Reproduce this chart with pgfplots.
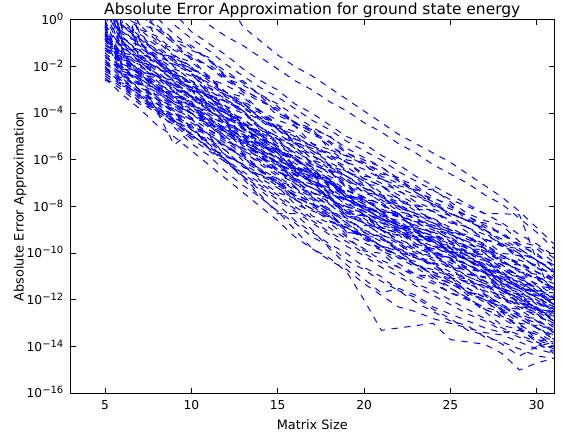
\documentclass[border=0pt]{standalone}
\usepackage{pgfplots}
\pgfplotsset{compat=1.18}
\usepackage{fontspec}
\setmainfont{DejaVu Sans}
\newcommand{\tl}[1]{10\raisebox{4bp}{\fontsize{10}{10}\selectfont #1}}
\pgfplotsset{ln/.style={blue, line width=1bp, dash pattern=on 6.4bp off 6.4bp, mark=none}}
\begin{document}
\begin{tikzpicture}
\useasboundingbox (0,0) rectangle (564bp,437bp);
\begin{axis}[
  at={(70.5bp,43.7bp)}, anchor=south west,
  width=483.5bp, height=373.3bp, scale only axis,
  xmin=3, xmax=31, ymin=-16, ymax=0,
  xtick={5,10,15,20,25,30},
  ytick={-16,-14,-12,-10,-8,-6,-4,-2,0},
  yticklabels={\tl{−16},\tl{−14},\tl{−12},\tl{−10},\tl{−8},\tl{−6},\tl{−4},\tl{−2},\tl{0}},
  /pgf/number format/assume math mode=true,
  minor tick num=0,
  tick align=inside,
  major tick length=5bp,
  axis line style={line width=1bp, black},
  tick style={line width=1bp, black},
  ticklabel style={font=\fontsize{12.3}{14}\selectfont, inner sep=0pt},
  xticklabel style={anchor=base, yshift=-16.4bp},
  yticklabel style={anchor=base east, xshift=-7bp, yshift=-4.5bp},
  title={Absolute Error Approximation for ground state energy},
  title style={at={(axis description cs:0.5,0.998)}, anchor=base, yshift=0pt, inner sep=0pt, font=\fontsize{15.5}{17}\selectfont},
  xlabel={Matrix Size},
  xlabel style={at={(axis description cs:0.5,-0.0973)}, anchor=base, inner sep=0pt, font=\fontsize{12.9}{14}\selectfont},
  ylabel={Absolute Error Approximation},
  ylabel style={at={(axis description cs:-0.0972,0.5)}, rotate=0, anchor=base, inner sep=0pt, font=\fontsize{12.9}{14}\selectfont},
]
\addplot[ln] coordinates {(5,6.0)(6,3.0)(7,-0.4)(8,-0.7)(9,-1.3)(10,-1.6)(11,-2.0)(12,-2.6)(13,-3.0)(14,-3.4)(15,-4.1)(16,-4.4)(17,-4.8)(18,-5.4)(19,-5.8)(20,-6.2)(21,-6.7)(22,-7.0)(23,-7.2)(24,-7.8)(25,-8.1)(26,-8.4)(27,-8.9)(28,-9.1)(29,-9.7)(30,-10.0)(31,-10.6)};
\addplot[ln] coordinates {(5,5.0)(6,-0.6)(7,-1.0)(8,-1.5)(9,-1.9)(10,-2.2)(11,-2.8)(12,-3.1)(13,-3.7)(14,-4.1)(15,-4.6)(16,-5.1)(17,-5.4)(18,-5.9)(19,-6.3)(20,-6.8)(21,-7.1)(22,-7.5)(23,-7.9)(24,-8.2)(25,-8.6)(26,-8.9)(27,-9.4)(28,-9.7)(29,-10.1)(30,-10.6)(31,-10.9)};
\addplot[ln] coordinates {(5,4.0)(6,2.5)(7,-0.9)(8,-1.2)(9,-1.8)(10,-2.1)(11,-2.5)(12,-3.1)(13,-3.5)(14,-3.9)(15,-4.5)(16,-4.8)(17,-5.3)(18,-5.8)(19,-6.1)(20,-6.6)(21,-7.0)(22,-7.3)(23,-7.8)(24,-8.1)(25,-8.4)(26,-8.9)(27,-9.2)(28,-9.6)(29,-10.0)(30,-10.3)(31,-10.8)};
\addplot[ln] coordinates {(5,1.5)(6,-0.8)(7,-1.3)(8,-1.9)(9,-2.2)(10,-2.7)(11,-3.1)(12,-3.7)(13,-4.0)(14,-4.6)(15,-5.0)(16,-5.5)(17,-5.8)(18,-6.4)(19,-6.7)(20,-7.2)(21,-7.5)(22,-7.9)(23,-8.3)(24,-8.5)(25,-9.0)(26,-9.3)(27,-9.8)(28,-10.1)(29,-10.5)(30,-11.0)(31,-11.3)};
\addplot[ln] coordinates {(5,3.5)(6,-1.1)(7,-1.5)(8,-2.1)(9,-2.4)(10,-3.0)(11,-3.3)(12,-3.8)(13,-4.3)(14,-4.7)(15,-5.2)(16,-5.7)(17,-6.0)(18,-6.6)(19,-6.9)(20,-7.4)(21,-7.7)(22,-8.2)(23,-8.4)(24,-8.9)(25,-9.1)(26,-9.6)(27,-9.9)(28,-10.4)(29,-10.7)(30,-11.1)(31,-11.5)};
\addplot[ln] coordinates {(5,0.3)(6,-1.2)(7,-1.6)(8,-2.0)(9,-2.6)(10,-2.9)(11,-3.5)(12,-3.9)(13,-4.5)(14,-4.9)(15,-5.4)(16,-5.8)(17,-6.3)(18,-6.7)(19,-7.1)(20,-7.6)(21,-7.9)(22,-8.3)(23,-8.7)(24,-9.0)(25,-9.4)(26,-9.7)(27,-10.2)(28,-10.5)(29,-11.0)(30,-11.3)(31,-11.8)};
\addplot[ln] coordinates {(5,4.5)(6,1.5)(7,-1.8)(8,-2.3)(9,-2.7)(10,-3.3)(11,-3.6)(12,-4.2)(13,-4.6)(14,-5.1)(15,-5.6)(16,-5.9)(17,-6.5)(18,-6.8)(19,-7.3)(20,-7.7)(21,-8.1)(22,-8.4)(23,-8.9)(24,-9.1)(25,-9.6)(26,-9.9)(27,-10.3)(28,-10.7)(29,-11.1)(30,-11.5)(31,-11.9)};
\addplot[ln] coordinates {(5,0.2)(6,-1.4)(7,-2.0)(8,-2.4)(9,-2.9)(10,-3.4)(11,-3.8)(12,-4.4)(13,-4.8)(14,-5.3)(15,-5.8)(16,-6.3)(17,-6.6)(18,-7.1)(19,-7.5)(20,-7.9)(21,-8.4)(22,-8.6)(23,-9.1)(24,-9.4)(25,-9.8)(26,-10.1)(27,-10.6)(28,-10.9)(29,-11.4)(30,-11.7)(31,-12.2)};
\addplot[ln] coordinates {(5,-0.2)(6,-1.9)(7,-2.3)(8,-2.9)(9,-3.3)(10,-3.7)(11,-4.3)(12,-4.7)(13,-5.2)(14,-5.6)(15,-6.2)(16,-6.5)(17,-7.0)(18,-7.4)(19,-7.9)(20,-8.2)(21,-8.7)(22,-9.0)(23,-9.4)(24,-9.7)(25,-10.1)(26,-10.5)(27,-10.8)(28,-11.3)(29,-11.6)(30,-12.1)(31,-12.4)};
\addplot[ln] coordinates {(5,-0.4)(6,-2.1)(7,-2.7)(8,-3.1)(9,-3.6)(10,-4.0)(11,-4.6)(12,-5.0)(13,-5.6)(14,-6.0)(15,-6.5)(16,-6.9)(17,-7.4)(18,-7.8)(19,-8.2)(20,-8.6)(21,-9.0)(22,-9.4)(23,-9.7)(24,-10.1)(25,-10.4)(26,-10.8)(27,-11.2)(28,-11.6)(29,-11.9)(30,-12.4)(31,-12.7)};
\addplot[ln] coordinates {(5,-0.6)(6,-2.4)(7,-3.0)(8,-3.5)(9,-3.9)(10,-4.4)(11,-4.9)(12,-5.4)(13,-5.9)(14,-6.4)(15,-6.8)(16,-7.3)(17,-7.7)(18,-8.2)(19,-8.5)(20,-9.0)(21,-9.3)(22,-9.8)(23,-10.1)(24,-10.4)(25,-10.8)(26,-11.1)(27,-11.5)(28,-11.9)(29,-12.2)(30,-12.6)(31,-13.0)};
\addplot[ln] coordinates {(5,-2.3)(6,-2.8)(7,-3.3)(8,-3.7)(9,-4.3)(10,-4.7)(11,-5.2)(12,-5.8)(13,-6.2)(14,-6.8)(15,-7.2)(16,-7.7)(17,-8.1)(18,-8.6)(19,-8.9)(20,-9.4)(21,-9.8)(22,-10.1)(23,-10.5)(24,-10.8)(25,-11.2)(26,-11.5)(27,-11.9)(28,-12.2)(29,-12.6)(30,-12.9)(31,-13.3)};
\addplot[ln] coordinates {(5,-2.6)(6,-2.7)(7,-3.2)(8,-3.9)(9,-4.4)(10,-5.0)(11,-5.4)(12,-6.0)(13,-6.5)(14,-7.0)(15,-7.5)(16,-8.0)(17,-8.5)(18,-8.9)(19,-9.4)(20,-9.8)(21,-10.3)(22,-10.6)(23,-11.0)(24,-11.3)(25,-11.7)(26,-12.0)(27,-12.4)(28,-12.7)(29,-13.1)(30,-13.4)(31,-13.8)};
\addplot[ln] coordinates {(5,-0.8)(6,-2.4)(7,-2.9)(8,-3.2)(9,-3.7)(10,-4.0)(11,-4.4)(12,-4.8)(13,-5.1)(14,-5.6)(15,-5.9)(16,-6.3)(17,-6.6)(18,-7.0)(19,-7.3)(20,-7.6)(21,-7.9)(22,-8.3)(23,-8.5)(24,-8.9)(25,-9.2)(26,-9.5)(27,-9.8)(28,-10.2)(29,-10.4)(30,-10.8)(31,-11.1)};
\addplot[ln] coordinates {(5,5.0)(6,2.0)(7,-0.6)(8,-1.3)(9,-2.0)(10,-2.6)(11,-3.3)(12,-3.9)(13,-4.6)(14,-5.2)(15,-5.9)(16,-6.5)(17,-7.0)(18,-7.6)(19,-8.1)(20,-8.7)(21,-9.2)(22,-9.6)(23,-10.1)(24,-10.6)(25,-11.0)(26,-11.5)(27,-11.9)(28,-12.4)(29,-12.8)(30,-13.2)(31,-13.6)};
\addplot[ln] coordinates {(5,3.0)(6,-0.2)(7,-0.9)(8,-1.7)(9,-2.4)(10,-3.1)(11,-3.8)(12,-4.4)(13,-5.1)(14,-5.8)(15,-6.4)(16,-7.0)(17,-7.6)(18,-8.2)(19,-8.7)(20,-9.2)(21,-9.7)(22,-10.2)(23,-10.6)(24,-11.1)(25,-11.5)(26,-11.9)(27,-12.4)(28,-12.8)(29,-13.2)(30,-13.5)(31,-13.9)};
\addplot[ln] coordinates {(5,0.5)(6,-1.0)(7,-1.4)(8,-1.8)(9,-2.3)(10,-2.6)(11,-3.0)(12,-3.5)(13,-3.8)(14,-4.2)(15,-4.6)(16,-5.0)(17,-5.4)(18,-5.7)(19,-6.1)(20,-6.4)(21,-6.8)(22,-7.2)(23,-7.5)(24,-7.9)(25,-8.3)(26,-8.6)(27,-9.0)(28,-9.4)(29,-9.8)(30,-10.3)(31,-10.7)};
\addplot[ln] coordinates {(5,0.7)(6,-1.5)(7,-2.2)(8,-2.8)(9,-3.4)(10,-4.0)(11,-4.5)(12,-5.1)(13,-5.6)(14,-6.2)(15,-6.7)(16,-7.2)(17,-7.6)(18,-8.1)(19,-8.6)(20,-9.0)(21,-9.4)(22,-9.8)(23,-10.2)(24,-10.5)(25,-10.9)(26,-11.3)(27,-11.6)(28,-12.0)(29,-12.3)(30,-12.7)(31,-13.0)};
\addplot[ln] coordinates {(5,2.0)(6,-0.3)(7,-0.8)(8,-1.4)(9,-1.7)(10,-2.3)(11,-2.7)(12,-3.3)(13,-3.7)(14,-4.3)(15,-4.7)(16,-5.2)(17,-5.6)(18,-6.1)(19,-6.5)(20,-6.9)(21,-7.4)(22,-7.7)(23,-8.2)(24,-8.5)(25,-8.9)(26,-9.3)(27,-9.6)(28,-10.1)(29,-10.4)(30,-10.8)(31,-11.2)};
\addplot[ln] coordinates {(5,-0.5)(6,-2.2)(7,-2.5)(8,-3.0)(9,-3.5)(10,-3.8)(11,-4.3)(12,-4.8)(13,-5.3)(14,-5.7)(15,-6.1)(16,-6.6)(17,-6.9)(18,-7.4)(19,-7.7)(20,-8.1)(21,-8.5)(22,-8.8)(23,-9.2)(24,-9.5)(25,-9.9)(26,-10.3)(27,-10.6)(28,-11.0)(29,-11.4)(30,-11.8)(31,-12.1)};
\addplot[ln] coordinates {(5,0.0)(6,-1.7)(7,-2.1)(8,-2.7)(9,-3.1)(10,-3.6)(11,-4.1)(12,-4.5)(13,-5.1)(14,-5.4)(15,-6.0)(16,-6.4)(17,-6.9)(18,-7.2)(19,-7.7)(20,-8.1)(21,-8.5)(22,-8.8)(23,-9.3)(24,-9.5)(25,-10.0)(26,-10.3)(27,-10.8)(28,-11.1)(29,-11.5)(30,-11.9)(31,-12.3)};
\addplot[ln] coordinates {(5,-2.1)(6,-2.7)(7,-3.2)(8,-3.8)(9,-4.4)(10,-4.9)(11,-5.5)(12,-6.0)(13,-6.6)(14,-7.1)(15,-7.6)(16,-8.1)(17,-8.6)(18,-9.1)(19,-9.5)(20,-10.0)(21,-10.4)(22,-10.8)(23,-11.3)(24,-11.6)(25,-12.0)(26,-12.4)(27,-12.8)(28,-13.2)(29,-13.5)(30,-13.8)(31,-14.1)};
\addplot[ln] coordinates {(5,-0.1)(6,-2.0)(7,-2.6)(8,-3.3)(9,-3.8)(10,-4.3)(11,-4.9)(12,-5.4)(13,-5.9)(14,-6.5)(15,-7.0)(16,-7.4)(17,-7.9)(18,-8.4)(19,-8.8)(20,-9.3)(21,-9.7)(22,-10.1)(23,-10.5)(24,-10.9)(25,-11.3)(26,-11.7)(27,-12.1)(28,-12.5)(29,-12.8)(30,-13.2)(31,-13.5)};
\addplot[ln] coordinates {(5,4.0)(6,1.0)(7,-1.2)(8,-1.6)(9,-2.1)(10,-2.4)(11,-2.9)(12,-3.4)(13,-3.9)(14,-4.3)(15,-4.9)(16,-5.3)(17,-5.8)(18,-6.2)(19,-6.7)(20,-7.1)(21,-7.6)(22,-7.9)(23,-8.4)(24,-8.7)(25,-9.2)(26,-9.5)(27,-10.0)(28,-10.3)(29,-10.8)(30,-11.1)(31,-11.6)};
\addplot[ln] coordinates {(5,0.9)(6,-1.3)(7,-1.9)(8,-2.5)(9,-2.8)(10,-3.2)(11,-3.7)(12,-4.0)(13,-4.5)(14,-4.8)(15,-5.3)(16,-5.6)(17,-6.1)(18,-6.4)(19,-6.9)(20,-7.2)(21,-7.6)(22,-8.0)(23,-8.3)(24,-8.7)(25,-9.0)(26,-9.4)(27,-9.7)(28,-10.1)(29,-10.5)(30,-10.8)(31,-11.2)};
\addplot[ln] coordinates {(5,-0.3)(6,-2.3)(7,-2.8)(8,-3.4)(9,-3.7)(10,-4.2)(11,-4.7)(12,-5.1)(13,-5.7)(14,-6.1)(15,-6.6)(16,-7.0)(17,-7.5)(18,-7.9)(19,-8.4)(20,-8.7)(21,-9.2)(22,-9.5)(23,-9.9)(24,-10.3)(25,-10.6)(26,-11.0)(27,-11.3)(28,-11.7)(29,-12.1)(30,-12.4)(31,-12.8)};
\addplot[ln] coordinates {(5,1.0)(6,-0.5)(7,-1.0)(8,-1.7)(9,-2.2)(10,-2.8)(11,-3.3)(12,-3.9)(13,-4.4)(14,-5.0)(15,-5.5)(16,-6.0)(17,-6.5)(18,-7.0)(19,-7.4)(20,-7.9)(21,-8.3)(22,-8.7)(23,-9.1)(24,-9.5)(25,-9.9)(26,-10.3)(27,-10.7)(28,-11.1)(29,-11.5)(30,-11.9)(31,-12.3)};
\addplot[ln] coordinates {(5,1.2)(6,-0.9)(7,-1.6)(8,-2.2)(9,-2.8)(10,-3.3)(11,-3.9)(12,-4.3)(13,-4.9)(14,-5.3)(15,-5.9)(16,-6.3)(17,-6.8)(18,-7.3)(19,-7.7)(20,-8.2)(21,-8.6)(22,-9.1)(23,-9.4)(24,-9.9)(25,-10.3)(26,-10.7)(27,-11.2)(28,-11.6)(29,-12.0)(30,-12.5)(31,-12.9)};
\addplot[ln] coordinates {(5,-2.4)(6,-2.9)(7,-3.5)(8,-4.0)(9,-4.5)(10,-5.1)(11,-5.6)(12,-6.1)(13,-6.7)(14,-7.2)(15,-7.7)(16,-8.2)(17,-8.7)(18,-9.2)(19,-9.7)(20,-10.1)(21,-10.6)(22,-11.0)(23,-11.4)(24,-11.8)(25,-12.2)(26,-12.6)(27,-12.9)(28,-13.3)(29,-13.6)(30,-13.9)(31,-14.2)};
\addplot[ln] coordinates {(5,6.0)(6,3.5)(7,0.5)(8,-0.8)(9,-1.5)(10,-2.0)(11,-2.6)(12,-3.2)(13,-3.6)(14,-4.2)(15,-4.7)(16,-5.3)(17,-5.7)(18,-6.3)(19,-6.7)(20,-7.2)(21,-7.6)(22,-8.1)(23,-8.5)(24,-8.9)(25,-9.3)(26,-9.8)(27,-10.2)(28,-10.6)(29,-11.0)(30,-11.5)(31,-11.9)};
\addplot[ln] coordinates {(5,-0.2)(6,-1.2)(7,-2.5)(8,-3.9)(9,-5.35)(10,-4.8)(11,-4.7)(12,-5.2)(13,-5.8)(14,-6.4)(15,-7.0)(16,-7.5)(17,-8.0)(18,-8.4)(19,-8.9)(20,-9.3)(21,-9.7)(22,-10.1)(23,-10.5)(24,-10.9)(25,-11.2)(26,-11.6)(27,-12.0)(28,-12.3)(29,-12.7)(30,-13.0)(31,-13.4)};
\addplot[ln] coordinates {(5,-2.0)(6,-2.6)(7,-3.1)(8,-3.6)(9,-4.1)(10,-4.7)(11,-5.3)(12,-6.0)(13,-6.8)(14,-7.6)(15,-8.2)(16,-9.0)(17,-9.8)(18,-10.2)(19,-10.8)(20,-12.0)(21,-13.3)(22,-13.2)(23,-13.1)(24,-13.0)(25,-13.7)(26,-13.8)(27,-13.9)(28,-14.3)(29,-15.0)(30,-14.7)(31,-14.5)};
\addplot[ln] coordinates {(5,-2.5)(6,-3.2)(7,-3.8)(8,-4.5)(9,-5.0)(10,-5.6)(11,-6.2)(12,-6.8)(13,-7.4)(14,-8.0)(15,-8.6)(16,-9.3)(17,-9.8)(18,-10.3)(19,-10.7)(20,-11.3)(21,-11.8)(22,-12.3)(23,-12.5)(24,-12.8)(25,-13.0)(26,-13.2)(27,-13.4)(28,-13.5)(29,-13.8)(30,-14.1)(31,-14.3)};
\addplot[ln] coordinates {(5,-1.8)(6,-2.5)(7,-3.1)(8,-3.8)(9,-4.3)(10,-4.9)(11,-5.5)(12,-6.1)(13,-6.7)(14,-7.3)(15,-7.9)(16,-8.6)(17,-9.1)(18,-9.6)(19,-10.0)(20,-10.6)(21,-11.0)(22,-11.6)(23,-11.9)(24,-12.4)(25,-12.8)(26,-13.3)(27,-13.5)(28,-13.9)(29,-14.4)(30,-14.0)(31,-13.8)};
\addplot[ln] coordinates {(5,-0.3)(6,-2.0)(7,-2.7)(8,-3.4)(9,-4.0)(10,-4.6)(11,-5.3)(12,-6.0)(13,-6.7)(14,-7.5)(15,-8.3)(16,-8.3)(17,-9.0)(18,-9.8)(19,-10.5)(20,-11.1)(21,-11.7)(22,-11.5)(23,-11.8)(24,-12.3)(25,-12.6)(26,-12.9)(27,-13.2)(28,-13.4)(29,-13.3)(30,-13.7)(31,-14.0)};
\addplot[ln] coordinates {(5,-2.2)(6,-2.6)(7,-3.4)(8,-3.9)(9,-4.6)(10,-5.3)(11,-5.8)(12,-6.5)(13,-7.1)(14,-7.6)(15,-8.2)(16,-8.7)(17,-9.3)(18,-9.7)(19,-10.3)(20,-10.7)(21,-11.2)(22,-11.6)(23,-12.1)(24,-12.5)(25,-12.9)(26,-13.1)(27,-13.6)(28,-13.8)(29,-14.1)(30,-14.4)(31,-14.5)};
\addplot[ln] coordinates {(5,8)(6,7)(7,6)(8,5)(9,4)(10,3)(11,2)(12,0.9)(13,-0.3)(14,-0.9)(15,-1.5)(16,-2.0)(17,-2.4)(18,-2.9)(19,-3.4)(20,-3.9)(21,-4.4)(22,-4.9)(23,-5.3)(24,-5.7)(25,-6.1)(26,-6.6)(27,-7.1)(28,-7.6)(29,-8.2)(30,-8.9)(31,-9.6)};
\addplot[ln] coordinates {(5,6)(6,5)(7,4)(8,2.5)(9,1.5)(10,0.6)(11,-0.2)(12,-0.7)(13,-1.1)(14,-1.6)(15,-2.1)(16,-2.6)(17,-3.0)(18,-3.5)(19,-3.9)(20,-4.4)(21,-4.8)(22,-5.3)(23,-5.7)(24,-6.2)(25,-6.6)(26,-7.0)(27,-7.5)(28,-7.9)(29,-8.5)(30,-9.1)(31,-9.8)};
\addplot[ln] coordinates {(5,5)(6,3.5)(7,2)(8,0.8)(9,-0.2)(10,-0.8)(11,-1.3)(12,-1.9)(13,-2.4)(14,-2.9)(15,-3.3)(16,-3.8)(17,-4.3)(18,-4.7)(19,-5.2)(20,-5.6)(21,-6.0)(22,-6.5)(23,-6.9)(24,-7.3)(25,-7.7)(26,-8.0)(27,-8.3)(28,-8.3)(29,-8.35)(30,-10.3)(31,-12.0)};
\addplot[ln] coordinates {(5,4)(6,2)(7,0.6)(8,-0.4)(9,-1.0)(10,-1.5)(11,-2.0)(12,-2.5)(13,-3.0)(14,-3.4)(15,-3.9)(16,-4.4)(17,-4.8)(18,-5.2)(19,-5.7)(20,-6.1)(21,-6.5)(22,-6.9)(23,-7.4)(24,-7.8)(25,-8.3)(26,-8.6)(27,-9.0)(28,-9.5)(29,-9.9)(30,-10.3)(31,-10.8)};
\addplot[ln] coordinates {(5,7)(6,5)(7,3)(8,1.5)(9,0.3)(10,-0.5)(11,-1.0)(12,-1.5)(13,-2.1)(14,-2.6)(15,-3.0)(16,-3.6)(17,-4.0)(18,-4.5)(19,-5.0)(20,-5.3)(21,-5.8)(22,-6.2)(23,-6.7)(24,-7.1)(25,-7.5)(26,-7.9)(27,-8.3)(28,-8.7)(29,-9.2)(30,-9.6)(31,-10.1)};
\addplot[ln] coordinates {(5,5)(6,3)(7,1.2)(8,0.1)(9,-0.6)(10,-1.2)(11,-1.7)(12,-2.2)(13,-2.7)(14,-3.2)(15,-3.6)(16,-4.1)(17,-4.6)(18,-5.0)(19,-5.5)(20,-5.9)(21,-6.3)(22,-6.8)(23,-7.1)(24,-7.6)(25,-8.0)(26,-8.4)(27,-8.8)(28,-9.2)(29,-9.6)(30,-10.1)(31,-10.5)};
\addplot[ln] coordinates {(5,1.2)(6,-0.7)(7,-1.45)(8,-1.7)(9,-2.3)(10,-3.0)(11,-3.2)(12,-3.8)(13,-4.5)(14,-4.9)(15,-5.2)(16,-6.0)(17,-6.4)(18,-6.8)(19,-7.5)(20,-7.7)(21,-8.2)(22,-8.3)(23,-9.0)(24,-9.3)(25,-9.6)(26,-10.3)(27,-10.4)(28,-10.9)(29,-11.5)(30,-11.6)(31,-12.2)};
\addplot[ln] coordinates {(5,-0.7)(6,-1.4)(7,-1.6)(8,-2.3)(9,-2.85)(10,-3.0)(11,-3.6)(12,-4.2)(13,-4.4)(14,-5.0)(15,-5.7)(16,-6.0)(17,-6.3)(18,-7.1)(19,-7.3)(20,-7.6)(21,-8.2)(22,-8.45)(23,-8.6)(24,-9.2)(25,-9.5)(26,-9.8)(27,-10.0)(28,-10.7)(29,-11.0)(30,-11.6)(31,-11.7)};
\addplot[ln] coordinates {(5,-1.2)(6,-1.6)(7,-2.3)(8,-3.0)(9,-3.2)(10,-3.6)(11,-4.5)(12,-4.8)(13,-5.2)(14,-5.9)(15,-6.4)(16,-6.6)(17,-7.4)(18,-7.65)(19,-8.2)(20,-8.8)(21,-8.9)(22,-9.5)(23,-9.8)(24,-10.0)(25,-10.6)(26,-10.7)(27,-11.3)(28,-12.0)(29,-12.1)(30,-12.6)(31,-13.1)};
\addplot[ln] coordinates {(5,-1.6)(6,-2.1)(7,-2.75)(8,-2.9)(9,-3.5)(10,-4.2)(11,-4.4)(12,-4.8)(13,-5.5)(14,-5.9)(15,-6.2)(16,-6.9)(17,-7.2)(18,-7.55)(19,-8.3)(20,-8.35)(21,-8.8)(22,-9.0)(23,-9.6)(24,-9.8)(25,-10.0)(26,-10.7)(27,-10.8)(28,-11.3)(29,-11.75)(30,-11.8)(31,-12.4)};
\addplot[ln] coordinates {(5,1.8)(6,-0.2)(7,-1.0)(8,-1.6)(9,-1.8)(10,-2.25)(11,-3.2)(12,-3.5)(13,-3.95)(14,-4.7)(15,-5.1)(16,-5.4)(17,-6.2)(18,-6.45)(19,-7.0)(20,-7.7)(21,-7.8)(22,-8.4)(23,-8.65)(24,-8.9)(25,-9.5)(26,-9.65)(27,-10.3)(28,-10.9)(29,-11.0)(30,-11.6)(31,-12.1)};
\addplot[ln] coordinates {(5,-1.0)(6,-1.7)(7,-1.9)(8,-2.6)(9,-3.25)(10,-3.5)(11,-4.1)(12,-4.7)(13,-4.9)(14,-5.5)(15,-6.2)(16,-6.6)(17,-6.8)(18,-7.7)(19,-8.0)(20,-8.3)(21,-8.9)(22,-9.15)(23,-9.3)(24,-10.0)(25,-10.2)(26,-10.5)(27,-10.85)(28,-11.6)(29,-11.9)(30,-12.5)(31,-12.6)};
\addplot[ln] coordinates {(5,-1.9)(6,-2.3)(7,-3.0)(8,-3.6)(9,-3.8)(10,-4.2)(11,-5.1)(12,-5.4)(13,-5.8)(14,-6.5)(15,-6.9)(16,-7.15)(17,-7.9)(18,-8.15)(19,-8.7)(20,-9.3)(21,-9.3)(22,-9.95)(23,-10.2)(24,-10.45)(25,-11.0)(26,-11.1)(27,-11.7)(28,-12.3)(29,-12.4)(30,-12.9)(31,-13.4)};
\addplot[ln] coordinates {(5,1.0)(6,-1.0)(7,-1.8)(8,-2.0)(9,-2.65)(10,-3.4)(11,-3.6)(12,-4.2)(13,-4.9)(14,-5.35)(15,-5.7)(16,-6.5)(17,-6.9)(18,-7.25)(19,-8.0)(20,-8.2)(21,-8.7)(22,-8.9)(23,-9.6)(24,-9.9)(25,-10.2)(26,-10.9)(27,-11.05)(28,-11.6)(29,-12.1)(30,-12.3)(31,-12.9)};
\addplot[ln] coordinates {(5,-1.4)(6,-2.1)(7,-2.2)(8,-2.9)(9,-3.5)(10,-3.6)(11,-4.2)(12,-4.8)(13,-4.9)(14,-5.5)(15,-6.15)(16,-6.5)(17,-6.7)(18,-7.5)(19,-7.7)(20,-8.0)(21,-8.55)(22,-8.8)(23,-8.9)(24,-9.5)(25,-9.7)(26,-10.0)(27,-10.2)(28,-10.9)(29,-11.2)(30,-11.7)(31,-11.8)};
\addplot[ln] coordinates {(5,2.5)(6,-0.4)(7,-1.1)(8,-1.7)(9,-1.9)(10,-2.3)(11,-3.2)(12,-3.5)(13,-3.9)(14,-4.6)(15,-5.0)(16,-5.25)(17,-6.0)(18,-6.25)(19,-6.8)(20,-7.4)(21,-7.5)(22,-8.05)(23,-8.3)(24,-8.55)(25,-9.1)(26,-9.2)(27,-9.8)(28,-10.4)(29,-10.5)(30,-11.0)(31,-11.5)};
\addplot[ln] coordinates {(5,-2.3)(6,-2.8)(7,-3.5)(8,-3.7)(9,-4.25)(10,-4.9)(11,-5.1)(12,-5.6)(13,-6.3)(14,-6.7)(15,-7.0)(16,-7.7)(17,-8.1)(18,-8.4)(19,-9.1)(20,-9.2)(21,-9.7)(22,-9.85)(23,-10.5)(24,-10.7)(25,-11.0)(26,-11.7)(27,-11.75)(28,-12.2)(29,-12.7)(30,-12.8)(31,-13.4)};
\addplot[ln] coordinates {(5,-0.8)(6,-1.5)(7,-1.7)(8,-2.4)(9,-3.0)(10,-3.25)(11,-3.85)(12,-4.45)(13,-4.65)(14,-5.3)(15,-6.0)(16,-6.35)(17,-6.6)(18,-7.45)(19,-7.7)(20,-8.0)(21,-8.6)(22,-8.9)(23,-9.0)(24,-9.7)(25,-9.95)(26,-10.3)(27,-10.6)(28,-11.3)(29,-11.6)(30,-12.2)(31,-12.3)};
\addplot[ln] coordinates {(5,-1.1)(6,-1.5)(7,-2.3)(8,-2.9)(9,-3.2)(10,-3.6)(11,-4.55)(12,-4.9)(13,-5.3)(14,-6.1)(15,-6.5)(16,-6.8)(17,-7.6)(18,-7.9)(19,-8.5)(20,-9.1)(21,-9.3)(22,-9.9)(23,-10.2)(24,-10.45)(25,-11.05)(26,-11.2)(27,-11.8)(28,-12.5)(29,-12.6)(30,-13.2)(31,-13.7)};
\addplot[ln] coordinates {(5,0.8)(6,-0.9)(7,-1.6)(8,-1.8)(9,-2.35)(10,-3.0)(11,-3.2)(12,-3.7)(13,-4.4)(14,-4.8)(15,-5.1)(16,-5.8)(17,-6.2)(18,-6.5)(19,-7.2)(20,-7.3)(21,-7.8)(22,-7.95)(23,-8.6)(24,-8.8)(25,-9.1)(26,-9.8)(27,-9.85)(28,-10.3)(29,-10.8)(30,-10.9)(31,-11.5)};
\addplot[ln] coordinates {(5,-1.7)(6,-2.4)(7,-2.7)(8,-3.4)(9,-4.0)(10,-4.25)(11,-4.9)(12,-5.5)(13,-5.75)(14,-6.4)(15,-7.1)(16,-7.5)(17,-7.8)(18,-8.65)(19,-8.9)(20,-9.3)(21,-9.9)(22,-10.2)(23,-10.35)(24,-11.0)(25,-11.3)(26,-11.65)(27,-12.0)(28,-12.7)(29,-13.0)(30,-13.7)(31,-13.8)};
\addplot[ln] coordinates {(5,3.0)(6,0.0)(7,-0.7)(8,-1.4)(9,-1.6)(10,-2.1)(11,-3.05)(12,-3.4)(13,-3.9)(14,-4.6)(15,-5.1)(16,-5.4)(17,-6.2)(18,-6.5)(19,-7.1)(20,-7.8)(21,-7.9)(22,-8.5)(23,-8.8)(24,-9.15)(25,-9.75)(26,-9.9)(27,-10.6)(28,-11.2)(29,-11.4)(30,-11.9)(31,-12.5)};
\addplot[ln] coordinates {(5,-2.5)(6,-3.0)(7,-3.6)(8,-3.8)(9,-4.35)(10,-5.0)(11,-5.2)(12,-5.6)(13,-6.3)(14,-6.65)(15,-6.9)(16,-7.6)(17,-7.9)(18,-8.25)(19,-9.0)(20,-9.1)(21,-9.5)(22,-9.6)(23,-10.2)(24,-10.4)(25,-10.6)(26,-11.3)(27,-11.35)(28,-11.8)(29,-12.3)(30,-12.35)(31,-12.9)};
\addplot[ln] coordinates {(5,1.3)(6,-0.8)(7,-1.1)(8,-1.8)(9,-2.5)(10,-2.7)(11,-3.35)(12,-4.0)(13,-4.2)(14,-4.9)(15,-5.6)(16,-6.0)(17,-6.3)(18,-7.2)(19,-7.5)(20,-7.8)(21,-8.5)(22,-8.8)(23,-9.0)(24,-9.65)(25,-9.95)(26,-10.3)(27,-10.6)(28,-11.4)(29,-11.7)(30,-12.4)(31,-12.5)};
\addplot[ln] coordinates {(5,-1.3)(6,-1.7)(7,-2.35)(8,-2.9)(9,-3.1)(10,-3.5)(11,-4.4)(12,-4.6)(13,-5.0)(14,-5.7)(15,-6.1)(16,-6.3)(17,-7.0)(18,-7.25)(19,-7.8)(20,-8.35)(21,-8.5)(22,-9.0)(23,-9.2)(24,-9.4)(25,-9.9)(26,-10.1)(27,-10.6)(28,-11.2)(29,-11.3)(30,-11.7)(31,-12.2)};
\addplot[ln] coordinates {(5,-0.9)(6,-1.4)(7,-2.2)(8,-2.4)(9,-3.0)(10,-3.8)(11,-4.0)(12,-4.5)(13,-5.3)(14,-5.7)(15,-6.05)(16,-6.8)(17,-7.2)(18,-7.6)(19,-8.4)(20,-8.5)(21,-9.05)(22,-9.2)(23,-9.9)(24,-10.2)(25,-10.5)(26,-11.2)(27,-11.4)(28,-11.9)(29,-12.4)(30,-12.6)(31,-13.2)};
\addplot[ln] coordinates {(5,4.0)(6,0.1)(7,-0.2)(8,-0.9)(9,-1.55)(10,-1.8)(11,-2.4)(12,-3.1)(13,-3.3)(14,-3.95)(15,-4.7)(16,-5.1)(17,-5.4)(18,-6.25)(19,-6.5)(20,-6.9)(21,-7.5)(22,-7.8)(23,-8.0)(24,-8.7)(25,-9.0)(26,-9.3)(27,-9.65)(28,-10.4)(29,-10.7)(30,-11.4)(31,-11.5)};
\addplot[ln] coordinates {(5,-2.1)(6,-2.5)(7,-3.25)(8,-3.9)(9,-4.1)(10,-4.5)(11,-5.5)(12,-5.8)(13,-6.2)(14,-6.9)(15,-7.4)(16,-7.65)(17,-8.4)(18,-8.7)(19,-9.3)(20,-9.9)(21,-10.0)(22,-10.6)(23,-10.9)(24,-11.2)(25,-11.7)(26,-11.9)(27,-12.5)(28,-13.1)(29,-13.25)(30,-13.8)(31,-14.3)};
\addplot[ln] coordinates {(5,-0.6)(6,-1.1)(7,-1.8)(8,-2.0)(9,-2.6)(10,-3.3)(11,-3.5)(12,-4.0)(13,-4.7)(14,-5.1)(15,-5.4)(16,-6.15)(17,-6.5)(18,-6.85)(19,-7.6)(20,-7.7)(21,-8.2)(22,-8.35)(23,-9.0)(24,-9.25)(25,-9.5)(26,-10.2)(27,-10.3)(28,-10.8)(29,-11.3)(30,-11.4)(31,-12.0)};
\addplot[ln] coordinates {(5,-1.5)(6,-2.2)(7,-2.4)(8,-3.1)(9,-3.65)(10,-3.85)(11,-4.4)(12,-5.0)(13,-5.2)(14,-5.8)(15,-6.5)(16,-6.8)(17,-7.05)(18,-7.9)(19,-8.1)(20,-8.4)(21,-9.0)(22,-9.25)(23,-9.4)(24,-10.0)(25,-10.3)(26,-10.6)(27,-10.85)(28,-11.5)(29,-11.8)(30,-12.4)(31,-12.5)};
\addplot[ln] coordinates {(5,2.8)(6,-0.1)(7,-0.8)(8,-1.4)(9,-1.6)(10,-2.0)(11,-2.9)(12,-3.2)(13,-3.55)(14,-4.25)(15,-4.65)(16,-4.9)(17,-5.65)(18,-5.9)(19,-6.45)(20,-7.05)(21,-7.1)(22,-7.7)(23,-7.95)(24,-8.2)(25,-8.7)(26,-8.85)(27,-9.45)(28,-10.0)(29,-10.1)(30,-10.6)(31,-11.1)};
\addplot[ln] coordinates {(5,-1.8)(6,-2.3)(7,-3.0)(8,-3.3)(9,-3.9)(10,-4.6)(11,-4.8)(12,-5.3)(13,-6.05)(14,-6.5)(15,-6.8)(16,-7.6)(17,-7.9)(18,-8.3)(19,-9.1)(20,-9.2)(21,-9.7)(22,-9.9)(23,-10.55)(24,-10.8)(25,-11.1)(26,-11.8)(27,-11.95)(28,-12.45)(29,-13.0)(30,-13.1)(31,-13.7)};
\addplot[ln] coordinates {(5,0.7)(6,-0.7)(7,-1.45)(8,-2.1)(9,-2.3)(10,-2.7)(11,-3.65)(12,-4.0)(13,-4.4)(14,-5.15)(15,-5.55)(16,-5.85)(17,-6.6)(18,-6.9)(19,-7.5)(20,-8.1)(21,-8.2)(22,-8.8)(23,-9.1)(24,-9.35)(25,-9.95)(26,-10.05)(27,-10.7)(28,-11.3)(29,-11.45)(30,-12.0)(31,-12.5)};
\addplot[ln] coordinates {(5,-1.2)(6,-1.7)(7,-2.3)(8,-2.5)(9,-3.05)(10,-3.7)(11,-3.9)(12,-4.3)(13,-5.0)(14,-5.35)(15,-5.6)(16,-6.3)(17,-6.65)(18,-6.95)(19,-7.65)(20,-7.7)(21,-8.2)(22,-8.3)(23,-8.9)(24,-9.1)(25,-9.35)(26,-10.0)(27,-10.05)(28,-10.5)(29,-11.0)(30,-11.05)(31,-11.6)};
% further lines
\addplot[ln] coordinates {(5,4.0)(6,0.4)(7,0.2)(8,-0.3)(9,-0.9)(10,-1.3)(11,-1.6)(12,-2.5)(13,-2.8)(14,-3.2)(15,-3.7)(16,-4.45)(17,-4.7)(18,-4.95)(19,-5.7)(20,-6.0)(21,-6.3)(22,-6.85)(23,-7.3)(24,-7.25)(25,-7.8)(26,-8.3)(27,-8.6)(28,-8.8)(29,-9.5)(30,-9.7)(31,-10.2)};
\addplot[ln] coordinates {(5,3.0)(6,1.2)(7,-0.2)(8,-0.4)(9,-1.0)(10,-1.7)(11,-1.9)(12,-2.4)(13,-3.1)(14,-3.5)(15,-3.8)(16,-4.55)(17,-4.9)(18,-5.25)(19,-6.0)(20,-6.1)(21,-6.6)(22,-6.75)(23,-7.4)(24,-7.65)(25,-7.9)(26,-8.6)(27,-8.7)(28,-9.2)(29,-9.7)(30,-9.8)(31,-10.4)};
\addplot[ln] coordinates {(5,4.5)(6,0.3)(7,-0.4)(8,-1.0)(9,-1.2)(10,-1.6)(11,-2.5)(12,-2.8)(13,-3.2)(14,-3.9)(15,-4.3)(16,-4.55)(17,-5.3)(18,-5.55)(19,-6.1)(20,-6.7)(21,-6.8)(22,-7.35)(23,-7.6)(24,-7.85)(25,-8.4)(26,-8.5)(27,-9.1)(28,-9.7)(29,-9.8)(30,-10.3)(31,-10.8)};
\addplot[ln] coordinates {(5,6.0)(6,0.76)(7,0.52)(8,-0.22)(9,-0.85)(10,-1.09)(11,-1.73)(12,-2.37)(13,-2.61)(14,-3.25)(15,-3.98)(16,-4.37)(17,-4.66)(18,-5.55)(19,-5.84)(20,-6.18)(21,-6.82)(22,-7.1)(23,-7.29)(24,-7.98)(25,-8.27)(26,-8.61)(27,-8.95)(28,-9.68)(29,-10.02)(30,-10.66)(31,-10.8)};
\addplot[ln] coordinates {(5,2.0)(6,-0.4)(7,-0.6)(8,-1.1)(9,-1.7)(10,-2.1)(11,-2.4)(12,-3.3)(13,-3.6)(14,-4.0)(15,-4.5)(16,-5.25)(17,-5.5)(18,-5.75)(19,-6.5)(20,-6.8)(21,-7.1)(22,-7.65)(23,-8.1)(24,-8.2)(25,-8.6)(26,-9.1)(27,-9.4)(28,-9.6)(29,-10.3)(30,-10.5)(31,-11.0)};
\addplot[ln] coordinates {(5,-0.8)(6,-1.6)(7,-1.8)(8,-2.3)(9,-2.9)(10,-3.3)(11,-3.6)(12,-4.5)(13,-4.8)(14,-5.2)(15,-5.7)(16,-6.45)(17,-6.7)(18,-6.95)(19,-7.7)(20,-8.0)(21,-8.3)(22,-8.85)(23,-9.3)(24,-9.4)(25,-9.8)(26,-10.3)(27,-10.6)(28,-10.8)(29,-11.5)(30,-11.7)(31,-12.2)};
\addplot[ln] coordinates {(5,-1.5)(6,-2.3)(7,-2.5)(8,-3.0)(9,-3.6)(10,-4.0)(11,-4.3)(12,-5.2)(13,-5.5)(14,-5.9)(15,-6.4)(16,-7.15)(17,-7.4)(18,-7.65)(19,-8.4)(20,-8.7)(21,-9.0)(22,-9.55)(23,-10.0)(24,-10.1)(25,-10.5)(26,-11.0)(27,-11.3)(28,-11.5)(29,-12.2)(30,-12.4)(31,-12.9)};
\addplot[ln] coordinates {(5,1.0)(6,-1.04)(7,-1.28)(8,-1.82)(9,-2.45)(10,-2.89)(11,-3.23)(12,-4.17)(13,-4.51)(14,-4.95)(15,-5.48)(16,-6.27)(17,-6.56)(18,-6.85)(19,-7.64)(20,-7.98)(21,-8.32)(22,-8.9)(23,-9.39)(24,-9.5)(25,-9.97)(26,-10.51)(27,-10.85)(28,-11.08)(29,-11.82)(30,-12.06)(31,-12.6)};
\addplot[ln] coordinates {(5,-2.0)(6,-2.82)(7,-3.05)(8,-3.57)(9,-4.19)(10,-4.62)(11,-4.94)(12,-5.86)(13,-6.18)(14,-6.61)(15,-7.13)(16,-7.9)(17,-8.18)(18,-8.45)(19,-9.22)(20,-9.55)(21,-9.87)(22,-10.44)(23,-10.91)(24,-11.0)(25,-11.46)(26,-11.98)(27,-12.31)(28,-12.53)(29,-13.25)(30,-13.48)(31,-14.0)};
\addplot[ln] coordinates {(5,-0.7)(6,-1.1)(7,-1.8)(8,-2.4)(9,-2.6)(10,-3.0)(11,-3.9)(12,-4.2)(13,-4.6)(14,-5.3)(15,-5.7)(16,-5.95)(17,-6.7)(18,-6.95)(19,-7.5)(20,-8.1)(21,-8.2)(22,-8.75)(23,-9.0)(24,-9.25)(25,-9.8)(26,-9.9)(27,-10.5)(28,-11.1)(29,-11.2)(30,-11.7)(31,-12.2)};
\addplot[ln] coordinates {(5,-1.2)(6,-1.9)(7,-2.1)(8,-2.8)(9,-3.4)(10,-3.6)(11,-4.2)(12,-4.8)(13,-5.0)(14,-5.6)(15,-6.3)(16,-6.65)(17,-6.9)(18,-7.75)(19,-8.0)(20,-8.3)(21,-8.9)(22,-9.15)(23,-9.3)(24,-9.95)(25,-10.2)(26,-10.5)(27,-10.8)(28,-11.5)(29,-11.8)(30,-12.4)(31,-12.5)};
\addplot[ln] coordinates {(5,-1.3)(6,-1.8)(7,-2.5)(8,-2.7)(9,-3.3)(10,-4.0)(11,-4.2)(12,-4.7)(13,-5.4)(14,-5.8)(15,-6.1)(16,-6.85)(17,-7.2)(18,-7.55)(19,-8.3)(20,-8.4)(21,-8.9)(22,-9.05)(23,-9.7)(24,-9.95)(25,-10.2)(26,-10.9)(27,-11.0)(28,-11.5)(29,-12.0)(30,-12.1)(31,-12.7)};
\end{axis}
\end{tikzpicture}
\end{document}
